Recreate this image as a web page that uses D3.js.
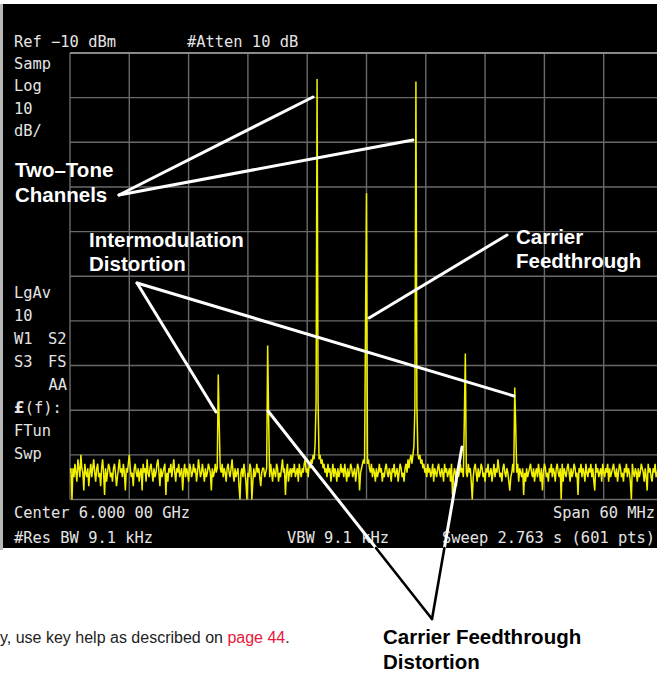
<!DOCTYPE html>
<html><head><meta charset="utf-8">
<script src="https://cdn.jsdelivr.net/npm/d3@7"></script>
<style>body{margin:0;background:#fff}svg{display:block}</style>
</head><body><svg id="c" width="657" height="673"></svg>
<script>
// ---- data ----
const startMHz = 5970, stopMHz = 6030, sweepPts = 601;
const gridFreqs = [5970, 5976, 5982, 5988, 5994, 6000, 6006, 6012, 6018, 6024, 6030];
const gridLevels = [-10, -20, -30, -40, -50, -60, -70, -80, -90, -100, -110];
const signalFreqs = [5985, 5990, 5995, 6000, 6005, 6010, 6015];
const signalLevels = [-82.0, -75.5, -15.8, -41.4, -16.4, -77.3, -84.9];
const skirtLeft1 = [null, null, -88, -71.6, -89, -91.8, null];
const skirtRight1 = [-93.4, -92, -88, null, -89, null, -94];
const skirtLeft2 = [null, null, -97.5, null, -98, null, null];
const noiseDbm = [
-104,-103,-110,-103,-105,-102,-104,-106,-101,-103,-105,-100,-103,-104,-108,-102,-104,-105,-103,-107,-104,-102,-105,-103,-101,
-104,-106,-103,-102,-105,-104,-107,-103,-101,-104,-109,-103,-106,-104,-102,-103,-105,-104,-106,-103,-102,-104,-107,-105,-103,
-101,-104,-103,-105,-102,-104,-108,-103,-104,-102,-100,-103,-105,-104,-107,-103,-102,-104,-105,-103,-106,-104,-103,-108,-102,
-104,-103,-106,-101,-104,-105,-103,-102,-104,-106,-103,-105,-104,-102,-101,-104,-107,-103,-105,-104,-103,-102,-109,-104,-106,
-103,-104,-102,-105,-103,-101,-104,-106,-103,-104,-102,-105,-104,-103,-108,-104,-102,-105,-103,-104,-106,-102,-103,-105,-104,
-102,-104,-103,-106,-104,-101,-103,-105,-104,-102,-104,-106,-103,-105,-104,-102,-103,-104,-108,-103,-105,-104,-102,-104,-103,
-104,-105,-103,-104,-102,-105,-103,-104,-106,-103,-102,-104,-105,-103,-101,-104,-106,-103,-105,-104,-103,-107,-110,-104,-103,
-105,-102,-104,-106,-110,-104,-105,-102,-103,-110,-106,-103,-105,-104,-102,-104,-103,-105,-107,-104,-103,-103,-105,-104,-103,
-104,-103,-105,-102,-104,-106,-103,-104,-105,-102,-103,-106,-104,-105,-103,-101,-104,-103,-109,-104,-102,-106,-104,-103,-105,
-103,-104,-102,-105,-104,-103,-106,-102,-104,-105,-103,-104,-102,-101,-104,-103,-105,-102,-103,-101,-102,-100,-101,-99,-100,
-100,-99,-101,-100,-102,-101,-103,-102,-104,-103,-105,-102,-104,-103,-106,-104,-102,-105,-103,-104,-106,-103,-105,-104,-102,
-104,-103,-105,-102,-104,-106,-103,-105,-104,-102,-103,-105,-104,-103,-106,-104,-102,-103,-108,-104,-103,-102,-101,-102,-101,
-101,-102,-101,-103,-104,-102,-105,-103,-104,-106,-103,-105,-104,-102,-104,-103,-106,-104,-105,-103,-102,-104,-105,-103,-104,
-106,-103,-104,-102,-105,-104,-103,-106,-104,-102,-103,-105,-104,-106,-103,-102,-104,-101,-103,-101,-100,-102,-100,-99,-100,
-100,-99,-100,-101,-100,-102,-101,-103,-102,-104,-103,-105,-102,-104,-103,-105,-104,-102,-106,-103,-104,-105,-103,-102,-104,
-105,-103,-104,-106,-102,-104,-103,-105,-104,-103,-106,-102,-109,-105,-103,-104,-107,-103,-105,-104,-102,-104,-103,-105,-104,
-103,-104,-105,-102,-104,-103,-106,-110,-105,-103,-102,-104,-106,-103,-105,-104,-102,-103,-105,-104,-106,-103,-104,-102,-105,
-104,-103,-106,-104,-102,-105,-103,-104,-101,-103,-105,-104,-106,-103,-102,-104,-105,-103,-104,-106,-108,-105,-104,-102,-104,
-103,-105,-104,-102,-106,-103,-104,-105,-103,-109,-104,-106,-103,-105,-104,-103,-102,-104,-105,-103,-106,-104,-103,-105,-102,
-104,-106,-103,-108,-104,-102,-103,-105,-104,-106,-103,-104,-102,-105,-103,-104,-106,-103,-102,-104,-105,-103,-110,-102,-106,
-103,-104,-105,-103,-102,-104,-106,-103,-105,-104,-102,-103,-105,-104,-109,-103,-104,-102,-105,-103,-104,-106,-102,-104,-105,
-103,-104,-102,-105,-103,-106,-108,-102,-104,-103,-105,-104,-103,-106,-102,-104,-105,-103,-104,-102,-106,-103,-105,-104,-103,
-102,-104,-105,-103,-106,-104,-102,-103,-105,-104,-106,-103,-104,-102,-105,-103,-104,-106,-110,-102,-104,-105,-103,-104,-106,
-103,-105,-104,-102,-103,-104,-106,-103,-105,-108,-102,-104,-103,-105,-106,-103,-104,-102,-105,-104,-103,-106,-104,-103,-105,
-104
];

// ---- drawing ----
const svg = d3.select('#c');
const x = d3.scaleLinear().domain([startMHz, stopMHz]).range([70, 663]);
const y = d3.scaleLinear().domain([-10, -110]).range([53, 499.5]);

// backgrounds
svg.append('rect').attr('x',0).attr('y',0).attr('width',657).attr('height',673).attr('fill','#fff');
svg.append('rect').attr('x',0).attr('y',4).attr('width',657).attr('height',544).attr('fill','#000');
svg.append('rect').attr('x',0).attr('y',4).attr('width',3).attr('height',546).attr('fill','#b8b8b8');

// grid
const grid = svg.append('g');
grid.selectAll('line.v').data(gridFreqs).join('line')
  .attr('x1', d => x(d)).attr('x2', d => x(d)).attr('y1', y(-10)).attr('y2', y(-110))
  .attr('stroke', '#6a6a6a').attr('stroke-width', 1.4);
grid.selectAll('line.h').data(gridLevels).join('line')
  .attr('x1', x(startMHz)).attr('x2', 663).attr('y1', d => y(d)).attr('y2', d => y(d))
  .attr('stroke', d => d === -10 ? '#8a8a8a' : '#6a6a6a').attr('stroke-width', d => d === -10 ? 2 : 1.4);

// trace
const trace = noiseDbm.slice(0, sweepPts);
const step = (stopMHz - startMHz) / (sweepPts - 1);
signalFreqs.forEach((f, k) => {
  const idx = Math.round((f - startMHz) / step);
  const setMax = (i, v) => { if (v != null && i >= 0 && i < trace.length) trace[i] = Math.max(trace[i], v); };
  setMax(idx - 1, skirtLeft1[k]);
  setMax(idx + 1, skirtRight1[k]);
  setMax(idx - 2, skirtLeft2[k]);
  trace[idx] = signalLevels[k];
});
svg.append('clipPath').attr('id','plotclip').append('rect')
  .attr('x', 70).attr('y', 53).attr('width', 600).attr('height', 448);
const line = d3.line().x((d, i) => x(startMHz + i * step)).y(d => y(d));
svg.append('path').datum(trace).attr('d', line)
  .attr('fill', 'none').attr('stroke', '#f2f200').attr('stroke-width', 1.5)
  .attr('stroke-linejoin', 'miter').attr('clip-path', 'url(#plotclip)');

// instrument text
const mono = {family: '"DejaVu Sans Mono", monospace', size: 15.4};
function itext(t, xx, yy, anchor) {
  return svg.append('text').attr('x', xx).attr('y', yy).text(t)
    .attr('font-family', mono.family).attr('font-size', mono.size)
    .attr('fill', '#e4e4e4').attr('text-anchor', anchor || 'start');
}
itext('Ref \u221210 dBm', 14, 47);
itext('#Atten 10 dB', 187, 47);
itext('Samp', 14, 69);
itext('Log', 14, 91);
itext('10', 14, 114);
itext('dB/', 14, 136);
itext('LgAv', 14, 298);
itext('10', 14, 321);
itext('W1', 14, 344); itext('S2', 48, 344);
itext('S3', 14, 367); itext('FS', 48, 367);
itext('AA', 67, 390, 'end');
const lf = itext('', 14, 413);
lf.append('tspan').attr('font-weight', 'bold').attr('font-family', '"DejaVu Sans", sans-serif').text('\u00a3');
lf.append('tspan').text('(f):');
itext('FTun', 14, 436);
itext('Swp', 14, 459);
itext('Center 6.000 00 GHz', 14, 518);
itext('Span 60 MHz', 655, 518, 'end');
itext('#Res BW 9.1 kHz', 14, 543);
itext('VBW 9.1 kHz', 287, 543);
itext('Sweep 2.763 s (601 pts)', 655, 543, 'end');

// annotations (white on black)
const wl = svg.append('g').attr('stroke', '#fff').attr('stroke-width', 3).attr('stroke-linecap', 'round');
function seg(g, a, b) { g.append('line').attr('x1', a[0]).attr('y1', a[1]).attr('x2', b[0]).attr('y2', b[1]); }
seg(wl, [119,195], [313,97]);
seg(wl, [119,195], [413,140]);
seg(wl, [137,283], [216,412]);
seg(wl, [137,283], [514,396]);
seg(wl, [507,235], [369,318]);
// feedthrough distortion lines: white part inside the screen, black part below
const apex = [432, 619];
const tops = [[268,411],[462,447]];
const edgeY = 548;
const bl = svg.append('g').attr('stroke', '#000').attr('stroke-width', 2.6).attr('stroke-linecap', 'round');
tops.forEach(t => {
  const r = (edgeY - t[1]) / (apex[1] - t[1]);
  const mid = [t[0] + r * (apex[0] - t[0]), edgeY];
  seg(wl, t, mid);
  seg(bl, mid, apex);
});

const sans = 'Arial, "Liberation Sans", Helvetica, sans-serif';
function label(lines, xx, yy, dy, color, size) {
  const t = svg.append('text').attr('x', xx).attr('y', yy)
    .attr('font-family', sans).attr('font-weight', 'bold').attr('font-size', size).attr('fill', color);
  lines.forEach((s, i) => t.append('tspan').attr('x', xx).attr('y', yy + i * dy).text(s));
}
label(['Two\u2013Tone', 'Channels'], 15, 177, 24.5, '#fff', 20.5);
label(['Intermodulation', 'Distortion'], 89, 247, 23.5, '#fff', 20.5);
label(['Carrier', 'Feedthrough'], 516, 244, 23.5, '#fff', 20.5);
label(['Carrier Feedthrough', 'Distortion'], 383, 644, 24.5, '#000', 20.5);

// footer text
const ft = svg.append('text').attr('x', 0).attr('y', 643)
  .attr('font-family', sans).attr('font-size', 16).attr('fill', '#222');
ft.append('tspan').text('y, use key help as described on ');
ft.append('tspan').attr('fill', '#e8163c').text('page 44');
ft.append('tspan').text('.');
</script></body></html>
